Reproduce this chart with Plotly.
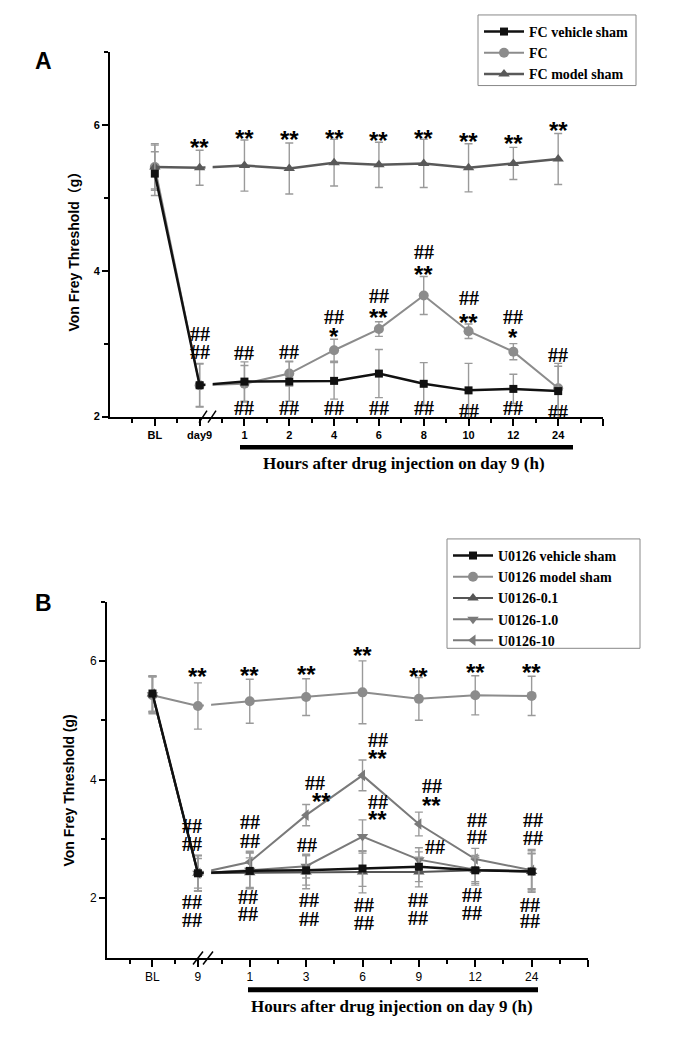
import plotly.graph_objects as go

# page is 685x1061; the html body has an 8px margin, so the figure is drawn inside it
PAGE_W, PAGE_H, OFF = 685, 1061, 8
W, H = PAGE_W - 2 * OFF, PAGE_H - 2 * OFF

# ---------------- Panel A data ----------------
catsA = ["BL", "day9", "1", "2", "4", "6", "8", "10", "12", "24"]
A_vehicle = [5.33, 2.43, 2.48, 2.48, 2.49, 2.59, 2.45, 2.36, 2.38, 2.35]
A_vehicle_err = [0.30, 0.30, 0.27, 0.27, 0.25, 0.33, 0.29, 0.37, 0.20, 0.38]
A_fc = [5.42, 2.43, 2.45, 2.59, 2.91, 3.20, 3.66, 3.17, 2.89, 2.39]
A_fc_err = [0.30, 0.29, 0.25, 0.17, 0.15, 0.10, 0.26, 0.10, 0.11, 0.30]
A_model = [5.42, 5.41, 5.44, 5.40, 5.48, 5.45, 5.47, 5.41, 5.47, 5.53]
A_model_err = [0.32, 0.24, 0.35, 0.35, 0.32, 0.31, 0.33, 0.33, 0.22, 0.35]

# significance marks for A: (category index, y, text, dx px)
marksA = [
    (1, 5.77, "**", 0), (2, 5.89, "**", 0), (3, 5.88, "**", 0), (4, 5.89, "**", 0),
    (5, 5.86, "**", 0), (6, 5.89, "**", 0), (7, 5.85, "**", 0), (8, 5.82, "**", 0),
    (9, 6.00, "**", 0),
    (1, 3.13, "##", 0), (1, 2.88, "##", 0), (2, 2.87, "##", 0), (3, 2.88, "##", 0),
    (4, 3.37, "##", 0), (4, 3.18, "*", 0), (5, 3.65, "##", 0), (5, 3.44, "**", 0),
    (6, 4.26, "##", 0), (6, 4.03, "**", 0), (7, 3.62, "##", 0), (7, 3.37, "**", 0),
    (8, 3.36, "##", 0), (8, 3.17, "*", 0), (9, 2.84, "##", 0),
    (2, 2.12, "##", 0), (3, 2.12, "##", 0), (4, 2.12, "##", 0), (5, 2.12, "##", 0),
    (6, 2.12, "##", 0), (7, 2.08, "##", 0), (8, 2.12, "##", 0), (9, 2.07, "##", 0),
]

# ---------------- Panel B data ----------------
catsB = ["BL", "9", "1", "3", "6", "9", "12", "24"]
B_vehicle = [5.45, 2.42, 2.46, 2.47, 2.50, 2.53, 2.47, 2.45]
B_vehicle_err = [0.30, 0.30, 0.30, 0.25, 0.30, 0.25, 0.25, 0.35]
B_model = [5.42, 5.24, 5.32, 5.39, 5.47, 5.36, 5.42, 5.41]
B_model_err = [0.31, 0.39, 0.37, 0.31, 0.53, 0.36, 0.33, 0.33]
B_01 = [5.44, 2.42, 2.43, 2.44, 2.44, 2.44, 2.47, 2.45]
B_01_err = [0.30, 0.25, 0.25, 0.28, 0.35, 0.25, 0.22, 0.30]
B_10 = [5.43, 2.42, 2.47, 2.54, 3.04, 2.65, 2.48, 2.46]
B_10_err = [0.30, 0.30, 0.30, 0.20, 0.28, 0.20, 0.20, 0.30]
B_100 = [5.44, 2.42, 2.61, 3.40, 4.07, 3.25, 2.66, 2.47]
B_100_err = [0.30, 0.30, 0.18, 0.18, 0.26, 0.20, 0.18, 0.35]

marksB = [
    (1, 5.84, "**", 0), (2, 5.86, "**", 0), (3, 5.87, "**", 0), (4, 6.19, "**", 0),
    (5, 5.84, "**", 0), (6, 5.91, "**", 0), (7, 5.91, "**", 0),
    (1, 3.21, "##", -6), (1, 2.92, "##", -6), (1, 1.94, "##", -6), (1, 1.63, "##", -6),
    (2, 3.28, "##", 0), (2, 2.97, "##", 0), (2, 2.02, "##", -2), (2, 1.73, "##", -2),
    (3, 3.95, "##", 9), (3, 3.73, "**", 15), (3, 2.89, "##", 1), (3, 1.97, "##", 3), (3, 1.65, "##", 3),
    (4, 4.66, "##", 15), (4, 4.45, "**", 15), (4, 3.62, "##", 15), (4, 3.42, "**", 15),
    (4, 1.88, "##", 1), (4, 1.59, "##", 1),
    (5, 3.89, "##", 13), (5, 3.67, "**", 13), (5, 2.86, "##", 16), (5, 1.97, "##", -1), (5, 1.67, "##", -1),
    (6, 3.31, "##", 2), (6, 3.03, "##", 2), (6, 2.05, "##", -3), (6, 1.75, "##", -3),
    (7, 3.31, "##", 1), (7, 3.02, "##", 1), (7, 1.89, "##", -2), (7, 1.61, "##", -2),
]

XTITLE = "Hours after drug injection on day 9 (h)"


def px(x):
    return (x - OFF) / W


def py(y):
    return 1 - (y - OFF) / H


# slot positions along x
posA = [i + 1 for i in range(len(catsA))]
B_RIGHT_START, B_RIGHT_STEP = 3.14, 1.24
posB = [i + 1 if i < 2 else B_RIGHT_START + (i - 2) * B_RIGHT_STEP for i in range(len(catsB))]
A_END = len(catsA) + 1
B_END = posB[-1] + B_RIGHT_STEP

fig = go.Figure()

ERR = "#9a9a9a"


def add(x, y, err, name, color, symbol, size, lw, xa, ya, leg, rank):
    fig.add_trace(go.Scatter(
        x=x, y=y, name=name, mode="lines+markers",
        line=dict(color=color, width=lw),
        marker=dict(symbol=symbol, size=size, color=color),
        error_y=dict(type="data", array=err, color=ERR, thickness=1.4, width=4),
        xaxis=xa, yaxis=ya, legend=leg, legendrank=rank, cliponaxis=False,
    ))


# drawing order: lighter series first, black on top; legend order via legendrank
add(posA, A_fc, A_fc_err, "FC", "#8c8c8c", "circle", 10, 2, "x", "y", "legend", 2)
add(posA, A_model, A_model_err, "FC model sham", "#595959", "triangle-up", 10, 2.5, "x", "y", "legend", 3)
add(posA, A_vehicle, A_vehicle_err, "FC vehicle sham", "#111111", "square", 8, 2.5, "x", "y", "legend", 1)

add(posB, B_model, B_model_err, "U0126 model sham", "#8c8c8c", "circle", 10, 2, "x2", "y2", "legend2", 2)
add(posB, B_100, B_100_err, "U0126-10", "#7a7a7a", "triangle-left", 10, 2, "x2", "y2", "legend2", 5)
add(posB, B_10, B_10_err, "U0126-1.0", "#7a7a7a", "triangle-down", 10, 2, "x2", "y2", "legend2", 4)
add(posB, B_01, B_01_err, "U0126-0.1", "#555555", "triangle-up", 10, 2, "x2", "y2", "legend2", 3)
add(posB, B_vehicle, B_vehicle_err, "U0126 vehicle sham", "#111111", "square", 8, 2.5, "x2", "y2", "legend2", 1)

ax_common = dict(showline=True, linecolor="black", linewidth=2, showgrid=False, zeroline=False,
                 ticks="outside", tickcolor="black", tickwidth=2, fixedrange=True, layer="above traces")

LEG_FONT = dict(family="Liberation Serif", size=14, weight="bold")
fig.update_layout(
    width=W, height=H, margin=dict(l=0, r=0, t=0, b=0),
    paper_bgcolor="white", plot_bgcolor="white",
    font=dict(family="Liberation Sans", color="black"),
    xaxis=dict(domain=[px(110), px(603)], range=[0, A_END], anchor="y",
               tickmode="array", tickvals=posA + [A_END], ticktext=catsA + [""], ticklen=7,
               minor=dict(tickmode="array", tickvals=[p - 0.5 for p in posA] + [A_END - 0.5],
                          ticks="outside", ticklen=4, tickwidth=2, tickcolor="black"),
               tickfont=dict(size=11, weight="bold"), **ax_common),
    yaxis=dict(domain=[py(419), py(52)], range=[2, 7], anchor="x",
               tickmode="array", tickvals=[2, 4, 6], ticklen=6,
               minor=dict(tickmode="array", tickvals=[3, 5, 7], ticks="outside", ticklen=4,
                          tickwidth=2, tickcolor="black"),
               tickfont=dict(size=11, weight="bold"), **ax_common),
    xaxis2=dict(domain=[px(107), px(588)], range=[0, B_END], anchor="y2",
                tickmode="array", tickvals=posB + [B_END], ticktext=catsB + [""], ticklen=7,
                minor=dict(tickmode="array",
                           tickvals=[0.5, 1.5] + [p - B_RIGHT_STEP / 2 for p in posB[2:]] + [B_END - B_RIGHT_STEP / 2],
                           ticks="outside", ticklen=4, tickwidth=2, tickcolor="black"),
                tickfont=dict(size=12), **ax_common),
    yaxis2=dict(domain=[py(963), py(605)], range=[1, 7], anchor="x2",
                tickmode="array", tickvals=[2, 4, 6], ticklen=6,
                minor=dict(tickmode="array", tickvals=[3, 5, 7], ticks="outside", ticklen=4,
                           tickwidth=2, tickcolor="black"),
                tickfont=dict(size=12), **ax_common),
    legend=dict(x=px(479), y=py(16), xanchor="left", yanchor="top", borderwidth=0,
                bgcolor="rgba(0,0,0,0)", font=LEG_FONT, tracegroupgap=0, itemwidth=40),
    legend2=dict(x=px(448), y=py(543), xanchor="left", yanchor="top", borderwidth=0,
                 bgcolor="rgba(0,0,0,0)", font=LEG_FONT, tracegroupgap=0, itemwidth=40),
)

shapes = []
# legend frames
shapes.append(dict(type="rect", xref="paper", yref="paper", x0=px(478), x1=px(636),
                   y0=py(15), y1=py(86), line=dict(color="#888888", width=1), fillcolor="rgba(0,0,0,0)"))
shapes.append(dict(type="rect", xref="paper", yref="paper", x0=px(447), x1=px(640),
                   y0=py(542), y1=py(652), line=dict(color="#888888", width=1), fillcolor="rgba(0,0,0,0)"))
# gaps in the data lines at the axis break
shapes.append(dict(type="rect", xref="x", yref="y", x0=2.13, x1=2.29, y0=2.03, y1=6.97,
                   fillcolor="white", line=dict(width=0), layer="above"))
shapes.append(dict(type="rect", xref="x2", yref="y2", x0=2.13, x1=2.29, y0=1.04, y1=6.97,
                   fillcolor="white", line=dict(width=0), layer="above"))
# break marks
for x0, x1 in [(199, 207), (208, 216)]:
    shapes.append(dict(type="line", xref="paper", yref="paper", x0=px(x0), x1=px(x1),
                       y0=py(425), y1=py(413), line=dict(color="black", width=1.5)))
for x0, x1 in [(193, 203), (203, 213)]:
    shapes.append(dict(type="line", xref="paper", yref="paper", x0=px(x0), x1=px(x1),
                       y0=py(970), y1=py(957), line=dict(color="black", width=1.5)))
# black bars under the axes
shapes.append(dict(type="rect", xref="paper", yref="paper", x0=px(240), x1=px(573),
                   y0=py(452), y1=py(447.5), fillcolor="black", line=dict(width=0)))
shapes.append(dict(type="rect", xref="paper", yref="paper", x0=px(248), x1=px(538),
                   y0=py(998), y1=py(993), fillcolor="black", line=dict(width=0)))
fig.update_layout(shapes=shapes)

ann = []


def mark(xref, yref, x, y, t, dx):
    if "#" in t:
        f = dict(family="Liberation Serif", size=20, weight="bold", color="black")
        ys = 0
    else:
        f = dict(family="Liberation Sans", size=24, weight="bold", color="black")
        ys = -6
    ann.append(dict(xref=xref, yref=yref, x=x, y=y, text=t, showarrow=False, font=f,
                    xshift=dx, yshift=ys, xanchor="center", yanchor="middle"))


for i, y, t, dx in marksA:
    mark("x", "y", posA[i], y, t, dx)
for i, y, t, dx in marksB:
    mark("x2", "y2", posB[i], y, t, dx)


def label(x, y, text, font, angle=0):
    ann.append(dict(xref="paper", yref="paper", x=px(x), y=py(y), text=text, showarrow=False,
                    xanchor="center", yanchor="middle", textangle=angle, font=font))


# panel letters
label(43, 61, "A", dict(family="Liberation Sans", size=23, weight="bold"))
label(43, 606, "B", dict(family="Liberation Sans", size=23, weight="bold"))
# y titles
label(74, 250, "Von Frey Threshold（g）",
      dict(family="Liberation Sans, Noto Sans CJK SC", size=14, weight="bold"), -90)
label(69, 795, "Von Frey Threshold (g)", dict(family="Liberation Sans", size=14, weight="bold"), -90)
# x titles
label(404, 466, XTITLE, dict(family="Liberation Serif", size=17, weight="bold"))
label(392, 1012, XTITLE, dict(family="Liberation Serif", size=17, weight="bold"))
fig.update_layout(annotations=ann)

fig.write_html("out.html")
